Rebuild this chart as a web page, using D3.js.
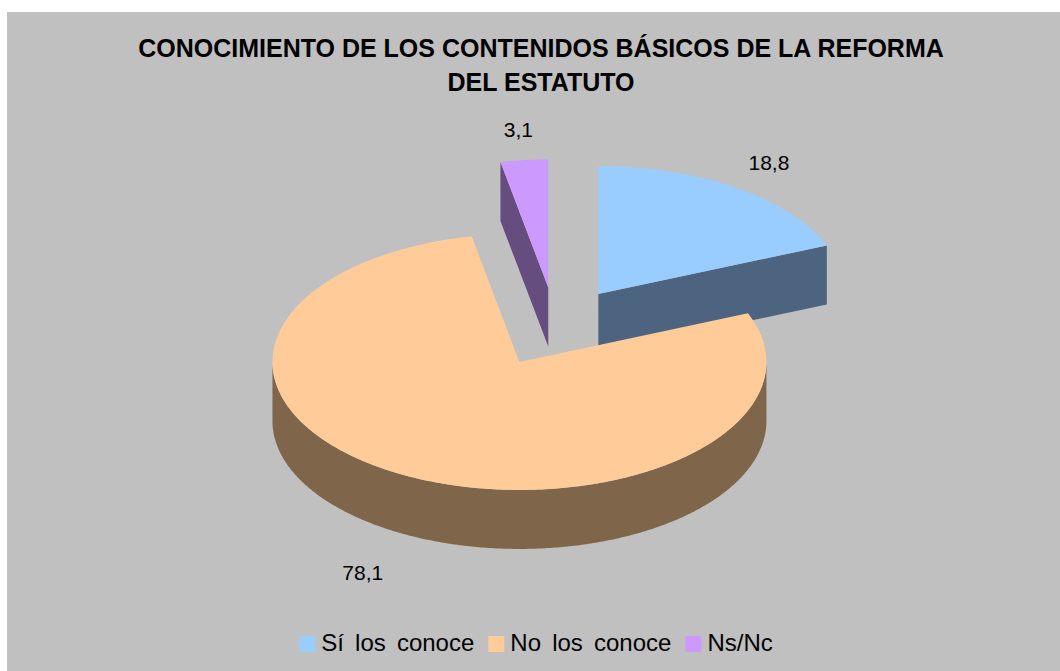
<!DOCTYPE html>
<html>
<head>
<meta charset="utf-8">
<script src="https://cdn.jsdelivr.net/npm/d3@7"></script>
<style>
  body { margin: 0; background: #fff; }
  svg { display: block; font-family: Arial, "Liberation Sans", sans-serif; }
</style>
</head>
<body>
<script>
// data
const categories = ["Sí los conoce", "No los conoce", "Ns/Nc"];
const values = [18.8, 78.1, 3.1];
const valueLabels = ["18,8", "78,1", "3,1"];
const titleLines = ["CONOCIMIENTO DE LOS CONTENIDOS BÁSICOS DE LA REFORMA", "DEL ESTATUTO"];

const topColors = ["#99ccff", "#ffcc99", "#cc99ff"];
const sideColors = ["#4d6480", "#7f664b", "#654d80"];

const width = 1060, height = 671;

const svg = d3.select("body").append("svg")
  .attr("width", width)
  .attr("height", height);

// chart area
svg.append("rect")
  .attr("x", 7).attr("y", 12)
  .attr("width", width - 7).attr("height", height - 12)
  .attr("fill", "#c0c0c0");

// title
svg.append("g").selectAll("text")
  .data(titleLines)
  .join("text")
  .attr("x", 541)
  .attr("y", (d, i) => 57 + i * 34)
  .attr("text-anchor", "middle")
  .attr("font-size", 25)
  .attr("font-weight", "bold")
  .attr("fill", "#000")
  .text(d => d);

// 3d pie geometry
const cx = 555.7, cy = 327;
const rx = 247, ry = 128;
const depth = 59;
const explode = 0.31;

const pie = d3.pie().sort(null).value(d => d);
const arcs = pie(values).map((a, i) => {
  const mid = (a.startAngle + a.endAngle) / 2;
  return {
    i: i,
    a0: a.startAngle,
    a1: a.endAngle,
    mid: mid,
    px: cx + explode * rx * Math.sin(mid),
    py: cy - explode * ry * Math.cos(mid)
  };
});

const line = d3.line();

function pt(s, t, dy) {
  return [s.px + rx * Math.sin(t), s.py - ry * Math.cos(t) + (dy || 0)];
}

function arcPoints(s, t0, t1, dy) {
  const n = Math.max(2, Math.ceil(Math.abs(t1 - t0) / 0.01));
  return d3.range(n + 1).map(k => pt(s, t0 + (t1 - t0) * k / n, dy));
}

// draw from back to front
const order = arcs.slice().sort((a, b) => a.py - b.py);
const g = svg.append("g");

order.forEach(s => {
  const sg = g.append("g");
  const apex = [s.px, s.py];
  const apexDown = [s.px, s.py + depth];

  // radial walls that face the viewer
  if (Math.sin(s.a0) < -1e-6) {
    sg.append("path")
      .attr("d", line([apex, pt(s, s.a0), pt(s, s.a0, depth), apexDown]) + "Z")
      .attr("fill", sideColors[s.i]);
  }
  if (Math.sin(s.a1) > 1e-6) {
    sg.append("path")
      .attr("d", line([apex, pt(s, s.a1), pt(s, s.a1, depth), apexDown]) + "Z")
      .attr("fill", sideColors[s.i]);
  }

  // outer wall (front half)
  const t0 = Math.max(s.a0, Math.PI / 2), t1 = Math.min(s.a1, Math.PI * 1.5);
  if (t1 > t0) {
    const topPts = arcPoints(s, t0, t1, 0);
    const botPts = arcPoints(s, t1, t0, depth);
    sg.append("path")
      .attr("d", line(topPts.concat(botPts)) + "Z")
      .attr("fill", sideColors[s.i]);
  }

  // top face
  sg.append("path")
    .attr("d", line([apex].concat(arcPoints(s, s.a0, s.a1, 0))) + "Z")
    .attr("fill", topColors[s.i]);
});

// value labels (front labels sit below the wall, a bit further out)
const labelK = d => Math.cos(d.mid) < 0 ? 1.34 : 1.24;
svg.append("g").selectAll("text")
  .data(arcs)
  .join("text")
  .attr("x", d => d.px + labelK(d) * rx * Math.sin(d.mid))
  .attr("y", d => d.py - labelK(d) * ry * Math.cos(d.mid) + (Math.cos(d.mid) < 0 ? depth : 0))
  .attr("text-anchor", "middle")
  .attr("dominant-baseline", "central")
  .attr("font-size", 21)
  .attr("fill", "#000")
  .text((d, i) => valueLabels[i]);

// legend
const legend = svg.append("g");
let lx = 0;
categories.forEach((c, i) => {
  legend.append("rect")
    .attr("x", lx).attr("y", -8)
    .attr("width", 16).attr("height", 16)
    .attr("fill", topColors[i]);
  const t = legend.append("text")
    .attr("x", lx + 22).attr("y", 6.5)
    .attr("font-size", 24)
    .style("word-spacing", "4.5px")
    .attr("fill", "#000")
    .text(c);
  lx += 22 + t.node().getComputedTextLength() + 14;
});
lx -= 14;
legend.attr("transform", `translate(${536 - lx / 2},644)`);
</script>
</body>
</html>
